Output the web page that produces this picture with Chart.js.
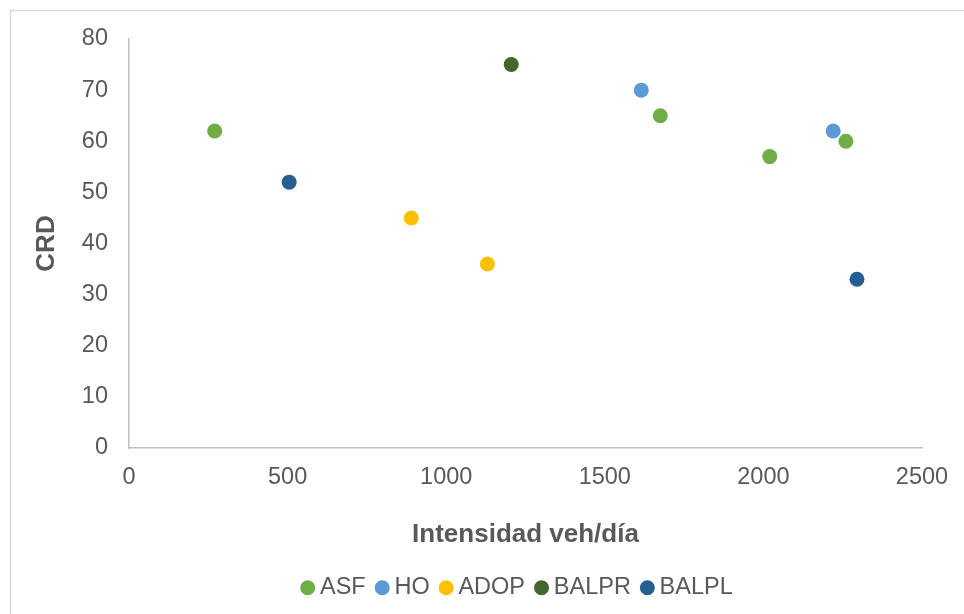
<!DOCTYPE html>
<html>
<head>
<meta charset="utf-8">
<script src="https://cdn.jsdelivr.net/npm/chart.js@4/dist/chart.umd.min.js"></script>
<style>
  html, body { margin: 0; padding: 0; background: #ffffff; }
  #wrap { position: relative; width: 964px; height: 614px; }
</style>
</head>
<body>
<div id="wrap"><canvas id="c" width="964" height="614"></canvas></div>
<script>
// Series: traffic intensity (veh/día) against CRD
const seriesNames = ['ASF', 'HO', 'ADOP', 'BALPR', 'BALPL'];
const seriesColors = ['#70AD47', '#5B9BD5', '#FFC000', '#43682B', '#255E91'];

const asfX = [270, 1675, 2020, 2260];
const asfY = [62, 65, 57, 60];
const hoX = [1615, 2220];
const hoY = [70, 62];
const adopX = [890, 1130];
const adopY = [45, 36];
const balprX = [1205];
const balprY = [75];
const balplX = [505, 2295];
const balplY = [52, 33];

const xTicks = [0, 500, 1000, 1500, 2000, 2500];
const yTicks = [0, 10, 20, 30, 40, 50, 60, 70, 80];

const seriesX = [asfX, hoX, adopX, balprX, balplX];
const seriesY = [asfY, hoY, adopY, balprY, balplY];

const datasets = seriesNames.map((name, i) => ({
  label: name,
  data: seriesX[i].map((x, j) => ({ x: x, y: seriesY[i][j] })),
  backgroundColor: seriesColors[i],
  borderColor: seriesColors[i],
  pointRadius: 7.5,
  pointHoverRadius: 7.5,
  borderWidth: 0,
  pointBorderWidth: 0
}));

const FONT = '"Liberation Sans", Arial, sans-serif';
const TEXT = '#595959';

// Light frame around the chart
const framePlugin = {
  id: 'frame',
  beforeDraw(chart) {
    const ctx = chart.ctx;
    ctx.save();
    ctx.fillStyle = '#ffffff';
    ctx.fillRect(0, 0, chart.width, chart.height);
    ctx.strokeStyle = '#d9d9d9';
    ctx.lineWidth = 1.5;
    ctx.strokeRect(10.5, 10.5, 1200, 1200);
    ctx.restore();
  }
};

// Centre the legend row under the plot area
const legendShift = {
  id: 'legendShift',
  afterLayout(chart) {
    const lg = chart.legend;
    if (lg) {
      lg.left = 118;
      lg.width = lg.right - lg.left;
    }
  }
};

new Chart(document.getElementById('c'), {
  type: 'scatter',
  data: { datasets: datasets },
  plugins: [framePlugin, legendShift],
  options: {
    responsive: false,
    animation: false,
    layout: { padding: { left: 0, right: 42, top: 39, bottom: 4.5 } },
    plugins: {
      tooltip: { enabled: false },
      legend: {
        position: 'bottom',
        labels: {
          usePointStyle: true,
          pointStyle: 'circle',
          boxWidth: 1,
          boxHeight: 10.6,
          padding: 16,
          color: TEXT,
          font: { family: FONT, size: 23.5 }
        }
      }
    },
    scales: {
      x: {
        type: 'linear',
        min: 0,
        max: 2500,
        afterFit(s) { s.height = 112; },
        afterBuildTicks(s) { s.ticks = xTicks.map(v => ({ value: v })); },
        grid: { display: false, drawTicks: false },
        border: { display: true, color: '#bfbfbf', width: 1.5 },
        ticks: {
          color: TEXT, padding: 15, maxRotation: 0,
          font: { family: FONT, size: 23.5 },
          callback: v => String(v)
        },
        title: {
          display: true,
          text: 'Intensidad veh/día',
          color: TEXT,
          padding: { top: 0, bottom: 10 },
          font: { family: FONT, size: 26, weight: 'bold' }
        }
      },
      y: {
        type: 'linear',
        min: 0,
        max: 80,
        afterFit(s) { s.width = 129; },
        afterBuildTicks(s) { s.ticks = yTicks.map(v => ({ value: v })); },
        grid: { display: false, drawTicks: false },
        border: { display: true, color: '#bfbfbf', width: 1.5 },
        ticks: { color: TEXT, padding: 21, font: { family: FONT, size: 23.5 }, callback: v => String(v) },
        title: {
          display: true,
          text: 'CRD',
          color: TEXT,
          padding: { top: 31.4, bottom: 0 },
          font: { family: FONT, size: 26, weight: 'bold' }
        }
      }
    }
  }
});
</script>
</body>
</html>
